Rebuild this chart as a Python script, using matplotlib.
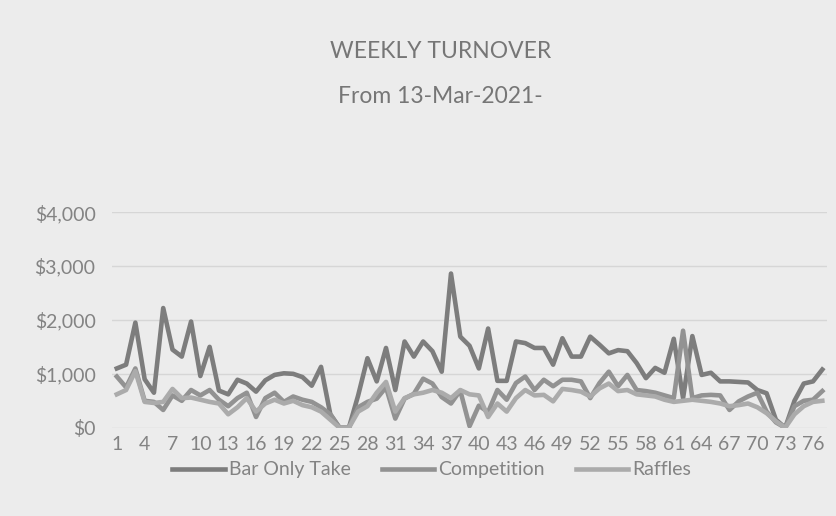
import matplotlib.pyplot as plt
import numpy as np

# weekly numbers 1..77
weeks = list(range(1, 78))

bar_only = [1100, 1170, 1950, 900, 650, 2220, 1450, 1320, 1970, 960,
            1500, 690, 620, 890, 820, 670, 880, 980, 1010, 1000,
            940, 780, 1130, 250, 0, 0, 600, 1290, 860, 1480,
            700, 1600, 1320, 1600, 1420, 1040, 2860, 1690, 1520, 1100,
            1840, 870, 870, 1600, 1570, 1480, 1480, 1170, 1660, 1320,
            1320, 1690, 1540, 1380, 1440, 1420, 1200, 920, 1110, 1020,
            1650, 550, 1700, 980, 1020, 860, 860, 850, 840, 700,
            640, 150, 0, 500, 820, 860, 1080]

competition = [950, 750, 1100, 500, 480, 330, 600, 500, 700, 600,
               700, 520, 400, 550, 650, 200, 550, 650, 480, 580,
               520, 480, 380, 250, 0, 0, 380, 480, 540, 750,
               170, 540, 630, 910, 820, 570, 450, 690, 30, 410,
               290, 700, 520, 830, 950, 700, 890, 770, 890, 890,
               860, 550, 830, 1040, 770, 980, 700, 680, 650, 600,
               550, 1800, 550, 600, 610, 600, 330, 490, 580, 650,
               300, 100, 0, 400, 500, 520, 680]

raffles = [620, 700, 1050, 480, 460, 480, 720, 550, 560, 520,
           480, 450, 250, 380, 550, 300, 450, 520, 450, 500,
           420, 380, 300, 150, 0, 0, 300, 400, 650, 850,
           300, 550, 620, 650, 700, 650, 550, 700, 620, 600,
           200, 450, 300, 550, 700, 600, 610, 490, 720, 700,
           670, 580, 730, 820, 680, 700, 620, 600, 580, 520,
           480, 500, 520, 500, 480, 450, 400, 420, 450, 380,
           270, 120, 0, 250, 400, 480, 500]

y_ticks = [0, 1000, 2000, 3000, 4000]
y_labels = ['$0', '$1,000', '$2,000', '$3,000', '$4,000']

plt.rcParams['font.family'] = ['Lato', 'DejaVu Sans']

bg = '#ececec'
txt = '#838383'
fig = plt.figure(figsize=(8.37, 5.16), dpi=100, facecolor=bg)
ax = fig.add_axes([0.134, 0.171, 0.854, 0.418], facecolor=bg)

ax.plot(weeks, bar_only, color='#7d7d7d', lw=3.3, label='Bar Only Take', solid_joinstyle='round')
ax.plot(weeks, competition, color='#929292', lw=3.3, label='Competition', solid_joinstyle='round')
ax.plot(weeks, raffles, color='#ababab', lw=3.3, label='Raffles', solid_joinstyle='round')

ax.set_xlim(0.5, 77.5)
ax.set_ylim(0, 4000)
ax.set_yticks(y_ticks)
ax.set_yticklabels(y_labels)
ax.set_xticks(weeks[::3])
ax.set_xticklabels([str(w) for w in weeks[::3]])
ax.tick_params(length=0, labelsize=14, labelcolor=txt)
ax.tick_params(axis='x', pad=6)
ax.tick_params(axis='y', pad=12)
ax.grid(axis='y', color='#d6d6d6', lw=1)
ax.set_axisbelow(True)
for s in ax.spines.values():
    s.set_visible(False)

fig.text(0.526, 0.9, 'WEEKLY TURNOVER', ha='center', va='center', fontsize=16.5, color='#767676')
fig.text(0.526, 0.813, 'From 13-Mar-2021-', ha='center', va='center', fontsize=16.5, color='#767676')

ax.legend(loc='center', bbox_to_anchor=(0.447, -0.195), ncol=3, frameon=False,
          fontsize=14, labelcolor=txt, handlelength=2.7, handletextpad=0.2,
          columnspacing=1.6, borderpad=0)

fig.savefig('out.png', dpi=100, facecolor=bg)
